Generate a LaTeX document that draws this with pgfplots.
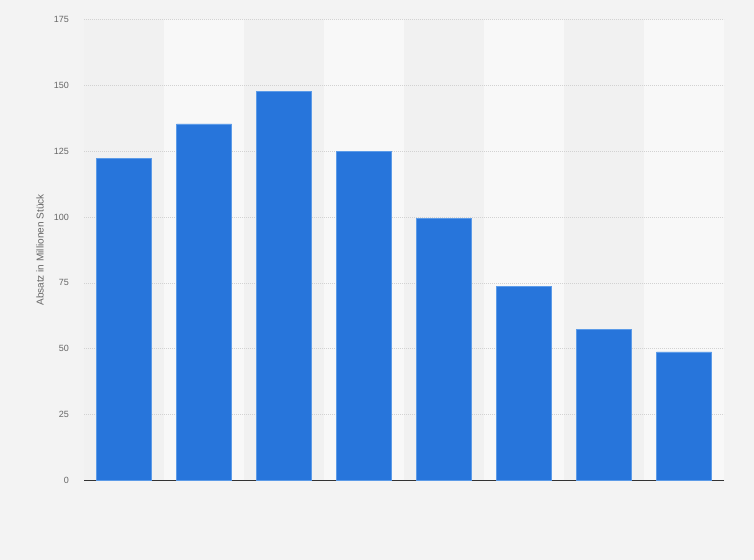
\documentclass[border=0pt]{standalone}
\usepackage{pgfplots}
\pgfplotsset{compat=1.18}
\usepackage{fontspec}
\setmainfont{Liberation Sans}

\definecolor{pagebg}{HTML}{F3F3F3}
\definecolor{banddark}{HTML}{F1F1F1}
\definecolor{bandlight}{HTML}{F8F8F8}
\definecolor{barblue}{HTML}{2775DB}
\definecolor{baredge}{HTML}{5C9BE8}
\definecolor{gridgray}{HTML}{D2D2D2}
\definecolor{textgray}{HTML}{666666}
\definecolor{axisdark}{HTML}{333333}

\begin{document}
\begin{tikzpicture}
  \begin{axis}[
      at={(0,0)}, anchor=south west,
      scale only axis,
      width=640bp, height=461bp,
      set layers,
      clip=false,
      xmin=-0.5, xmax=7.5,
      ymin=0, ymax=175,
      enlargelimits=false,
      xtick=\empty,
      ytick={0,25,...,175},
      major tick length=0pt,
      ymajorgrids,
      grid style={gridgray, line width=0.8bp, dash pattern=on 1bp off 1bp},
      axis x line*=bottom,
      axis y line*=left,
      y axis line style={draw=none},
      x axis line style={-, draw=axisdark, line width=1.3bp},
      /pgf/number format/assume math mode=true,
      yticklabel style={font=\fontsize{9bp}{10bp}\selectfont, text=textgray,
        anchor=east, inner sep=0pt, xshift=-15bp},
      ylabel={Absatz in Millionen Stück},
      every axis y label/.style={at={(axis description cs:-0.06875,0.5)},
        rotate=90, anchor=center,
        font=\fontsize{10bp}{11bp}\selectfont, text=textgray},
    ]
    % page background, 754 x 560
    \begin{pgfonlayer}{axis background}
      \fill[pagebg] ([xshift=-84bp,yshift=-79.5bp]rel axis cs:0,0)
        rectangle ([xshift=30bp,yshift=19.5bp]rel axis cs:1,1);
    \end{pgfonlayer}
    % alternating column bands
    \addplot[ybar, bar width=1, fill=banddark, draw=none, on layer=axis background]
      coordinates {(0,175) (2,175) (4,175) (6,175)};
    \addplot[ybar, bar width=1, fill=bandlight, draw=none, on layer=axis background]
      coordinates {(1,175) (3,175) (5,175) (7,175)};
    % data
    \addplot[ybar, bar width=0.6875, fill=barblue, draw=baredge, line width=0.6bp]
      coordinates {(0,122.4) (1,135.4) (2,147.6) (3,124.8)
                   (4,99.6) (5,73.8) (6,57.5) (7,48.8)};
  \end{axis}
\end{tikzpicture}
\end{document}
